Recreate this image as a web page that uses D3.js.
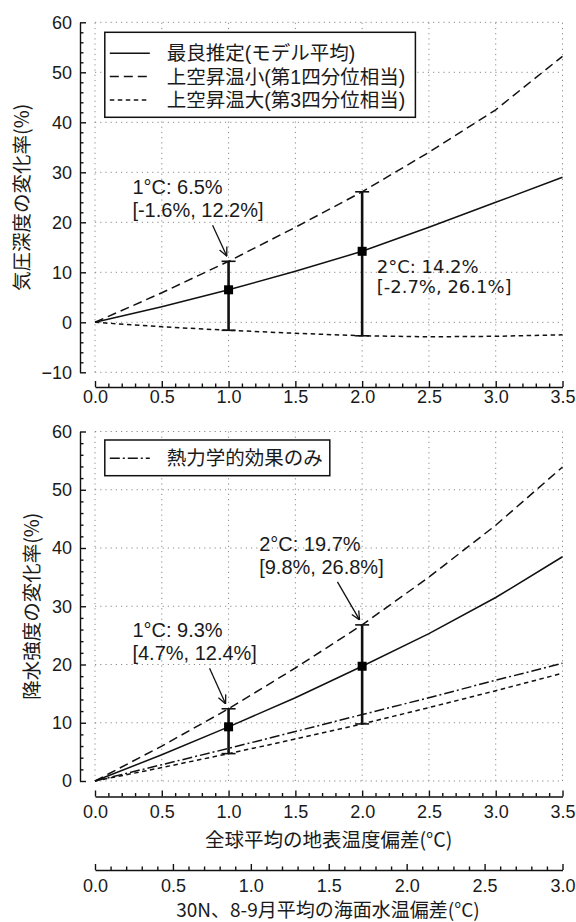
<!DOCTYPE html>
<html>
<head>
<meta charset="utf-8">
<script src="https://cdn.jsdelivr.net/npm/d3@7"></script>
<style>
  body { margin: 0; background: #fff; }
  svg text { fill: #1a1a1a; }
</style>
</head>
<body>
<div id="chart"></div>
<script>
// ---- datos ----
const temps = [0, 0.5, 1, 1.5, 2, 2.5, 3, 3.5]

// 気圧深度
const presBest   = [0, 3.1, 6.5, 10.2, 14.2, 19.0, 24.0, 29.0]
const presWeak   = [0, 5.9, 12.2, 19.0, 26.1, 34.0, 42.5, 53.2]
const presStrong = [0, -0.9, -1.6, -2.2, -2.7, -2.9, -2.8, -2.5]

// 降水強度
const rainBest   = [0, 4.5, 9.3, 14.3, 19.7, 25.3, 31.5, 38.5]
const rainWeak   = [0, 6.0, 12.4, 19.4, 26.8, 35.0, 43.9, 53.9]
const rainStrong = [0, 2.3, 4.7, 7.2, 9.8, 12.6, 15.5, 18.5]
const rainThermo = [0, 2.8, 5.6, 8.5, 11.4, 14.3, 17.3, 20.2]

const errTemps = [1, 2]
const presMid = [6.5, 14.2], presLo = [-1.6, -2.7], presHi = [12.2, 26.1]
const rainMid = [9.3, 19.7], rainLo = [4.7, 9.8], rainHi = [12.4, 26.8]

const legendPres = ["最良推定(モデル平均)", "上空昇温小(第1四分位相当)", "上空昇温大(第3四分位相当)"]
const legendRain = ["熱力学的効果のみ"]

const tempTicks = [0, 0.5, 1, 1.5, 2, 2.5, 3, 3.5]
const sstTicks  = [0, 0.5, 1, 1.5, 2, 2.5, 3]
const presTicks = [-10, 0, 10, 20, 30, 40, 50, 60]
const rainTicks = [0, 10, 20, 30, 40, 50, 60]

const presLabel = "気圧深度の変化率(%)"
const rainLabel = "降水強度の変化率(%)"
const tempLabel = "全球平均の地表温度偏差(°C)"
const sstLabel  = "30N、8-9月平均の海面水温偏差(°C)"

const presNotes = [["1°C: 6.5%", "[-1.6%, 12.2%]"], ["2°C: 14.2%", "[-2.7%, 26.1%]"]]
const rainNotes = [["1°C: 9.3%", "[4.7%, 12.4%]"], ["2°C: 19.7%", "[9.8%, 26.8%]"]]

// ---- layout ----
const ancho = 576, alto = 922
const latin = "'Liberation Sans', Arial, sans-serif"
const cjk = "'Noto Sans CJK JP', 'Noto Sans', sans-serif"
// latin first: keeps the line box short, kanji fall back to Noto CJK
const cjkLey = "'Liberation Sans', 'Noto Sans CJK JP', sans-serif"

const dashes = {
  best: null,
  weak: "9,5",
  strong: "4.5,3.5",
  thermo: "10,3,2,3"
}

const svg = d3.select("#chart").append("svg")
  .attr("width", ancho).attr("height", alto)

const x = d3.scaleLinear().domain([0, 3.5]).range([95, 562.5])
const xSst = d3.scaleLinear().domain([0, 3]).range([95, 562.5])

// open V arrow head
svg.append("defs").append("marker")
  .attr("id", "flecha")
  .attr("viewBox", "0 0 10 10").attr("refX", 9.5).attr("refY", 5)
  .attr("markerWidth", 10).attr("markerHeight", 10)
  .attr("markerUnits", "userSpaceOnUse")
  .attr("orient", "auto")
  .append("path").attr("d", "M1,1 L9.5,5 L1,9")
  .attr("fill", "none").attr("stroke", "#111").attr("stroke-width", 1.3)

function panel(cfg) {
  const y = d3.scaleLinear().domain(cfg.dom).range(cfg.rango)
  const g = svg.append("g")

  // grid
  const grid = g.append("g").attr("stroke", "#8a8a8a").attr("stroke-width", 1)
    .attr("stroke-dasharray", "1.2,4")
  grid.selectAll(".gx").data(tempTicks).enter().append("line")
    .attr("x1", d => x(d)).attr("x2", d => x(d))
    .attr("y1", y(cfg.dom[0])).attr("y2", y(cfg.dom[1]))
  grid.selectAll(".gy").data(cfg.ticks).enter().append("line")
    .attr("x1", x(0)).attr("x2", x(3.5))
    .attr("y1", d => y(d)).attr("y2", d => y(d))

  // y axis (ticks pointing inward)
  const minorY = d3.range(cfg.dom[0], cfg.dom[1] + 0.01, 2).filter(v => v % 10 !== 0)
  const ejeY = g.append("g").attr("transform", "translate(80,0)")
    .call(d3.axisLeft(y).tickValues(cfg.ticks).tickSize(-6).tickSizeOuter(0).tickPadding(8))
  ejeY.append("g")
    .call(d3.axisLeft(y).tickValues(minorY).tickSize(-3.5).tickFormat(""))
    .select(".domain").remove()
  ejeY.attr("font-family", latin).attr("font-size", 18)
  ejeY.selectAll("path,line").attr("stroke", "#111").attr("stroke-width", 1.4)

  // x axis
  axisX(g, x, tempTicks, d3.range(0, 3.51, 0.1), cfg.ejeXy, cfg.pad)

  // lines
  const linea = d3.line().x((d, i) => x(temps[i])).y(d => y(d))
  cfg.series.forEach(s => {
    g.append("path").datum(s.vals)
      .attr("d", linea)
      .attr("fill", "none").attr("stroke", "#111").attr("stroke-width", 1.5)
      .attr("stroke-dasharray", dashes[s.tipo])
  })

  // error bars
  errTemps.forEach((t, i) => {
    const cx = x(t)
    g.append("line").attr("x1", cx).attr("x2", cx)
      .attr("y1", y(cfg.lo[i])).attr("y2", y(cfg.hi[i]))
      .attr("stroke", "#111").attr("stroke-width", 2.6)
    ;[cfg.lo[i], cfg.hi[i]].forEach(v => {
      g.append("line").attr("x1", cx - 7).attr("x2", cx + 7)
        .attr("y1", y(v)).attr("y2", y(v))
        .attr("stroke", "#111").attr("stroke-width", 1.6)
    })
    g.append("rect").attr("x", cx - 4.5).attr("y", y(cfg.mid[i]) - 4.5)
      .attr("width", 9).attr("height", 9).attr("fill", "#000")
  })

  // annotations
  cfg.notas.forEach((n, i) => {
    const t = g.append("text").attr("x", n.x).attr("y", n.y)
      .attr("font-family", n.font || latin).attr("font-size", n.size || 20)
    cfg.textos[i].forEach((linea, k) => {
      t.append("tspan").attr("x", n.x).attr("y", n.y + k * n.dy).text(linea)
    })
    if (n.flecha) {
      const tx = x(errTemps[i]) + n.flecha[2], ty = y(cfg.hi[i]) + n.flecha[3]
      g.append("line")
        .attr("x1", x(errTemps[i]) + n.flecha[0]).attr("y1", y(cfg.hi[i]) + n.flecha[1])
        .attr("x2", tx).attr("y2", ty)
        .attr("stroke", "#111").attr("stroke-width", 1.3)
        .attr("marker-end", "url(#flecha)")
    }
  })

  // legend
  const L = cfg.leyenda
  g.append("rect").attr("x", L.x).attr("y", L.y).attr("width", L.w).attr("height", L.h)
    .attr("fill", "#fff").attr("stroke", "#111").attr("stroke-width", 1.5)
  L.items.forEach((it, k) => {
    const ly = L.y0 + k * 23.3
    g.append("line").attr("x1", L.x + 5).attr("x2", L.x + 45)
      .attr("y1", ly).attr("y2", ly)
      .attr("stroke", "#111").attr("stroke-width", 1.5)
      .attr("stroke-dasharray", dashes[it.tipo])
    g.append("text").attr("x", L.x + 62).attr("y", ly + 7)
      .attr("font-family", cjkLey).attr("font-size", 19.5)
      .text(it.txt)
  })

  // y label
  g.append("text")
    .attr("transform", `translate(${cfg.labelX},${(cfg.rango[0] + cfg.rango[1]) / 2}) rotate(-90)`)
    .attr("text-anchor", "middle").attr("dy", "0.36em")
    .attr("font-family", cjk).attr("font-size", 19.5)
    .text(cfg.label)
}

function axisX(g, escala, mayores, menores, yPos, pad) {
  const e = g.append("g").attr("transform", `translate(0,${yPos})`)
    .call(d3.axisBottom(escala).tickValues(mayores).tickSize(-6).tickSizeOuter(0)
      .tickPadding(pad).tickFormat(d3.format(".1f")))
  e.append("g")
    .call(d3.axisBottom(escala).tickValues(menores.filter(v => Math.abs(v * 2 - Math.round(v * 2)) > 1e-6))
      .tickSize(-3.5).tickFormat(""))
    .select(".domain").remove()
  e.attr("font-family", latin).attr("font-size", 18)
  e.selectAll("path,line").attr("stroke", "#111").attr("stroke-width", 1.4)
  return e
}

// ---- panel superior ----
panel({
  dom: [-10, 60], rango: [372.3, 22.3], ticks: presTicks,
  ejeXy: 387, pad: 3,
  series: [
    { vals: presBest, tipo: "best" },
    { vals: presWeak, tipo: "weak" },
    { vals: presStrong, tipo: "strong" }
  ],
  lo: presLo, hi: presHi, mid: presMid,
  textos: presNotes,
  notas: [
    { x: 132.4, y: 194, dy: 23.3, flecha: [-16, -36, -1.8, -5.3] },
    { x: 376.7, y: 272.7, dy: 20, font: "'DejaVu Sans', Verdana, sans-serif", size: 18 }
  ],
  leyenda: {
    x: 104.8, y: 32.3, w: 310.6, h: 85, y0: 53.3,
    items: legendPres.map((t, i) => ({ txt: t, tipo: ["best", "weak", "strong"][i] }))
  },
  label: presLabel, labelX: 22
})

// ---- panel inferior ----
panel({
  dom: [0, 60], rango: [781, 431.5], ticks: rainTicks,
  ejeXy: 796.5, pad: 8.5,
  series: [
    { vals: rainBest, tipo: "best" },
    { vals: rainWeak, tipo: "weak" },
    { vals: rainStrong, tipo: "strong" },
    { vals: rainThermo, tipo: "thermo" }
  ],
  lo: rainLo, hi: rainHi, mid: rainMid,
  textos: rainNotes,
  notas: [
    { x: 132.4, y: 637, dy: 23.3, flecha: [-19, -40.5, -3, -5] },
    { x: 259.2, y: 550.5, dy: 23.3, flecha: [-24.7, -43, -2.6, -5] }
  ],
  leyenda: {
    x: 104.8, y: 440, w: 225, h: 35.7, y0: 458.3,
    items: legendRain.map(t => ({ txt: t, tipo: "thermo" }))
  },
  label: rainLabel, labelX: 32
})

svg.append("text").attr("x", 328.7).attr("y", 840).attr("dy", "0.36em")
  .attr("text-anchor", "middle").attr("font-family", cjk).attr("font-size", 19.5)
  .text(tempLabel)

// 海面水温の軸
axisX(svg, xSst, sstTicks, d3.range(0, 3.01, 0.1), 870, 9)

svg.append("text").attr("x", 328).attr("y", 910.5).attr("dy", "0.36em")
  .attr("text-anchor", "middle").attr("font-family", cjk).attr("font-size", 19)
  .text(sstLabel)
</script>
</body>
</html>
